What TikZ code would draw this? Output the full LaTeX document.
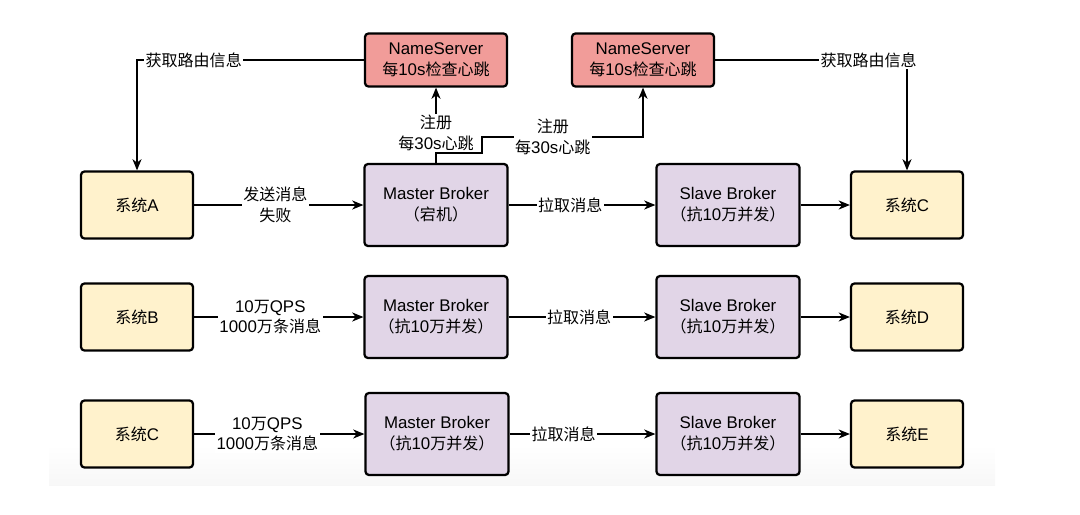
\documentclass[tikz,border=0pt]{standalone}
\usepackage{fontspec}
\setmainfont{Liberation Sans}
\newfontfamily\cjk[Scale=0.95]{Noto Sans CJK SC}
\newcommand{\zh}[1]{{\cjk #1}}
\usetikzlibrary{arrows.meta}
\definecolor{nsred}{HTML}{F19C99}
\definecolor{sysyellow}{HTML}{FFF2CC}
\definecolor{brokerpurple}{HTML}{E1D5E7}

\begin{document}
\begin{tikzpicture}[x=0.025cm,y=-0.025cm,
    box/.style={draw,line width=1.6pt,rounded corners=2.5pt,align=center,font=\fontsize{12}{14.8}\selectfont},
    nsbox/.style={box,fill=nsred,minimum width=3.55cm,minimum height=1.325cm},
    sysbox/.style={box,fill=sysyellow,minimum width=2.8cm,minimum height=1.675cm},
    brokerbox/.style={box,fill=brokerpurple,minimum width=3.575cm,minimum height=2.05cm},
    arr/.style={draw,line width=0.9pt,-{Stealth[length=8pt,width=6.5pt,inset=2.5pt]}},
    lbl/.style={fill=white,inner sep=1pt,align=center,font=\fontsize{12}{14.8}\selectfont}]
      \useasboundingbox (0,0) rectangle (1080,514);
      \shade[top color=white,bottom color=black!3] (49,445) rectangle (995,485);

      \node[nsbox] (ns1) at (436,60) {NameServer\\\zh{每}10s\zh{检查心跳}};
      \node[nsbox] (ns2) at (643,60) {NameServer\\\zh{每}10s\zh{检查心跳}};

      \node[sysbox] (sysA) at (137,205) {\zh{系统}A};
      \node[brokerbox] (master1) at (436,205) {Master Broker\\\zh{（宕机）}};
      \node[brokerbox] (slave1) at (728,205) {Slave Broker\\\zh{（抗}10\zh{万并发）}};
      \node[sysbox] (sysC1) at (907,205) {\zh{系统}C};

      \node[sysbox] (sysB) at (137,317) {\zh{系统}B};
      \node[brokerbox] (master2) at (436,317) {Master Broker\\\zh{（抗}10\zh{万并发）}};
      \node[brokerbox] (slave2) at (728,317) {Slave Broker\\\zh{（抗}10\zh{万并发）}};
      \node[sysbox] (sysD) at (907,317) {\zh{系统}D};

      \node[sysbox] (sysC2) at (137,434) {\zh{系统}C};
      \node[brokerbox] (master3) at (437,434) {Master Broker\\\zh{（抗}10\zh{万并发）}};
      \node[brokerbox] (slave3) at (728,434) {Slave Broker\\\zh{（抗}10\zh{万并发）}};
      \node[sysbox] (sysE) at (907,434) {\zh{系统}E};

      \coordinate (j1) at (482,153);
      \coordinate (j2) at (482,137);

      \draw[arr] (ns1.west) -| node[lbl,pos=0.375] {\zh{获取路由信息}} (sysA.north);
      \draw[arr] (ns2.east) -| node[lbl,pos=0.4] {\zh{获取路由信息}} (sysC1.north);
      \draw[arr] (master1.north) -- node[lbl,pos=0.4] {\zh{注册}\\\zh{每}30s\zh{心跳}} (ns1.south);
      \draw[arr] (master1.north) |- (j1) -- (j2) -| node[lbl,pos=0.22] {\zh{注册}\\\zh{每}30s\zh{心跳}} (ns2.south);

      \draw[arr] (sysA) -- node[lbl,pos=0.48] {\zh{发送消息}\\\zh{失败}} (master1);
      \draw[arr] (master1) -- node[lbl,pos=0.42] {\zh{拉取消息}} (slave1);
      \draw[arr] (slave1) -- (sysC1);

      \draw[arr] (sysB) -- node[lbl,pos=0.45] {10\zh{万}QPS\\1000\zh{万条消息}} (master2);
      \draw[arr] (master2) -- node[lbl,pos=0.48] {\zh{拉取消息}} (slave2);
      \draw[arr] (slave2) -- (sysD);

      \draw[arr] (sysC2) -- node[lbl,pos=0.43] {10\zh{万}QPS\\1000\zh{万条消息}} (master3);
      \draw[arr] (master3) -- node[lbl,pos=0.37] {\zh{拉取消息}} (slave3);
      \draw[arr] (slave3) -- (sysE);
\end{tikzpicture}
\end{document}
